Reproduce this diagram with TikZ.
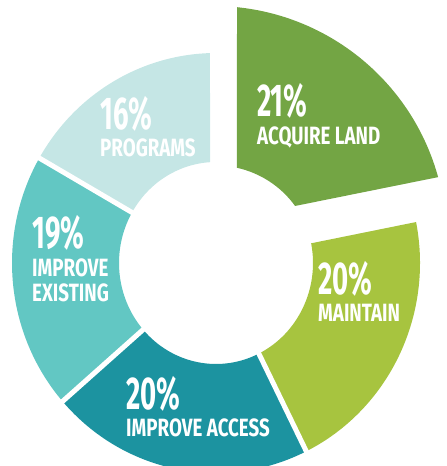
\documentclass[tikz,border=0pt]{standalone}
\usepackage{fontspec}
\newfontfamily\labelfont[FakeStretch=0.75]{Fira Sans}
\newfontfamily\pctfont[FakeStretch=0.6]{Fira Sans}
\usetikzlibrary{calc}
\definecolor{coloracquire}  {RGB}{115,165,68}
\definecolor{colormaintain} {RGB}{167,196,63}
\definecolor{coloraccess}   {RGB}{28 ,147,160}
\definecolor{colorexisting} {RGB}{98 ,199,195}
\definecolor{colorprograms} {RGB}{197,230,229}

\begin{document}
\begin{tikzpicture}[
    x=1pt, y=1pt,
    pct/.style={text=white,font={\pctfont\bfseries\fontsize{46}{46}\selectfont},anchor=base west,inner sep=0pt,text depth=0pt},
    txt/.style={text=white,font={\labelfont\bfseries\fontsize{25}{25}\selectfont},anchor=base west,inner sep=0pt,text height=17pt},
    sep/.style={white,line width=5pt},
]

    \clip (0,0) rectangle (447,466);
    \coordinate (C) at (216,203);
    \coordinate (O2) at (213.5,227);

    % ring segments
    \fill [colorprograms] ($(C)+(91.7:204 and 210)$) arc[start angle=91.7,end angle=150,x radius=204,y radius=210]
        -- ($(C)+(150:97 and 101)$) arc[start angle=150,end angle=93.5,x radius=97,y radius=101] -- cycle;
    \fill [colorexisting] ($(C)+(150:204 and 210)$) arc[start angle=150,end angle=221.25,x radius=204,y radius=210]
        -- ($(C)+(221.25:97 and 101)$) arc[start angle=221.25,end angle=150,x radius=97,y radius=101] -- cycle;
    \fill [coloraccess] ($(C)+(221.25:204 and 210)$) arc[start angle=221.25,end angle=296.25,x radius=204,y radius=210]
        -- ($(C)+(296.25:97 and 101)$) arc[start angle=296.25,end angle=221.25,x radius=97,y radius=101] -- cycle;
    \fill [colormaintain] ($(C)+(296.25:204 and 210)$) arc[start angle=296.25,end angle=371.25,x radius=204,y radius=210]
        -- ($(C)+(371.25:97 and 101)$) arc[start angle=371.25,end angle=296.25,x radius=97,y radius=101] -- cycle;

    % pulled out piece
    \fill [coloracquire] ($(C)+(35.8:97.5)$) arc[start angle=35.8,end angle=77.7,radius=97.5]
        -- ($(O2)+(84.2:233)$) arc[start angle=84.2,end angle=15.4,radius=233] -- cycle;

    \draw [sep] ($(C)+(150:90 and 94)$) -- ($(C)+(150:215 and 221)$);
    \draw [sep] ($(C)+(221.25:90 and 94)$) -- ($(C)+(221.25:215 and 221)$);
    \draw [sep] ($(C)+(296.25:90 and 94)$) -- ($(C)+(296.25:215 and 221)$);

    \node[pct] at (257,349) (acquirepct) {21\%};
    \node[txt] at (257,321) (acquiretxt) {ACQUIRE LAND};
    \node[pct] at (100,336) (programspct) {16\%};
    \node[txt] at (100,309) (programstxt) {PROGRAMS};
    \node[pct] at (32,217) (existingpct) {19\%};
    \node[txt] at (32,189) (existingtxt) {IMPROVE};
    \node[txt] at (32,164) (existingtxtb) {EXISTING};
    \node[pct] at (318,171) (maintainpct) {20\%};
    \node[txt] at (318,144) (maintaintxt) {MAINTAIN};
    \node[pct] at (126,56) (accesspct) {20\%};
    \node[txt] at (126,29) (accesstxt) {IMPROVE ACCESS};

\end{tikzpicture}
\end{document}
